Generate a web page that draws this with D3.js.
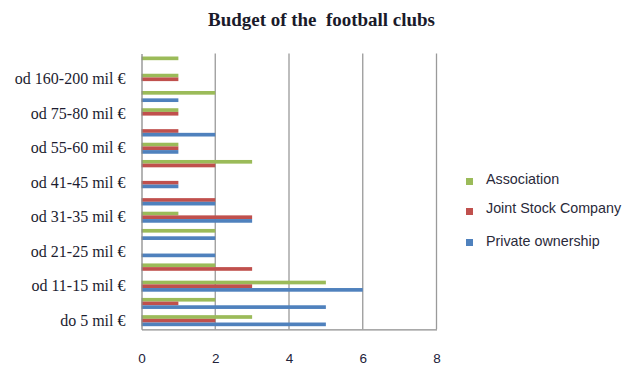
<!DOCTYPE html>
<html>
<head>
<meta charset="utf-8">
<script src="https://cdn.jsdelivr.net/npm/d3@7"></script>
<style>
  html, body { margin: 0; padding: 0; background: #fff; }
  svg { display: block; }
</style>
</head>
<body>
<svg id="chart" width="631" height="367"></svg>
<script>
// Budget buckets, bottom to top; only every other bucket carries a visible label
const categories = [
  "do 5 mil €", "od 6-10 mil €", "od 11-15 mil €", "od 16-20 mil €",
  "od 21-25 mil €", "od 26-30 mil €", "od 31-35 mil €", "od 36-40 mil €",
  "od 41-45 mil €", "od 46-50 mil €", "od 55-60 mil €", "od 61-70 mil €",
  "od 75-80 mil €", "od 100-150 mil €", "od 160-200 mil €", "nad 200 mil €"
];
const shownLabels = [
  "do 5 mil €", "od 11-15 mil €", "od 21-25 mil €", "od 31-35 mil €",
  "od 41-45 mil €", "od 55-60 mil €", "od 75-80 mil €", "od 160-200 mil €"
];

// Number of clubs per bucket for each ownership type
const association       = [3, 2, 5, 2, 0, 2, 1, 0, 0, 3, 1, 0, 1, 2, 1, 1];
const jointStockCompany = [2, 1, 3, 3, 0, 0, 3, 2, 1, 2, 1, 1, 1, 0, 1, 0];
const privateOwnership  = [5, 5, 6, 0, 2, 2, 3, 2, 1, 0, 1, 2, 0, 1, 0, 0];

const seriesNames  = ["Association", "Joint Stock Company", "Private ownership"];
const seriesColors = ["#9BBB59", "#C0504D", "#4F81BD"];
const xTicks = [0, 2, 4, 6, 8];

const series = [association, jointStockCompany, privateOwnership].map((vals, s) => ({
  name: seriesNames[s],
  color: seriesColors[s],
  values: vals
}));

const svg = d3.select("#chart");

const plot = { left: 141.5, right: 436.5, top: 53.4, bottom: 329.3 };

const x = d3.scaleLinear().domain([0, 8]).range([plot.left, plot.right]);
const y = d3.scaleBand()
  .domain(categories)
  .range([plot.bottom, plot.top])
  .paddingInner(0.36)
  .paddingOuter(0.18);
const yInner = d3.scaleBand()
  .domain(seriesNames)
  .range([0, y.bandwidth()]);

// Title
svg.append("text")
  .attr("x", 321.5)
  .attr("y", 26)
  .attr("text-anchor", "middle")
  .attr("font-family", "'Liberation Serif', 'Times New Roman', serif")
  .attr("font-weight", "bold")
  .attr("font-size", 19.5)
  .attr("textLength", 227)
  .attr("lengthAdjust", "spacingAndGlyphs")
  .attr("fill", "#1a1a2a")
  .style("white-space", "pre")
  .text("Budget of the  football clubs");

// Vertical gridlines
svg.append("g")
  .selectAll("line")
  .data(xTicks.filter(t => t > 0))
  .join("line")
  .attr("x1", d => x(d)).attr("x2", d => x(d))
  .attr("y1", plot.top).attr("y2", plot.bottom)
  .attr("stroke", "#9a9a9a")
  .attr("stroke-width", 1.3);

// Bars
const groups = svg.append("g")
  .selectAll("g")
  .data(categories)
  .join("g")
  .attr("transform", d => `translate(0,${y(d)})`);

groups.selectAll("rect")
  .data((c, i) => series.map(s => ({ name: s.name, color: s.color, value: s.values[i] })))
  .join("rect")
  .attr("x", x(0))
  .attr("y", d => yInner(d.name))
  .attr("width", d => x(d.value) - x(0))
  .attr("height", yInner.bandwidth())
  .attr("fill", d => d.color);

// Category axis (left)
const yAxis = d3.axisLeft(y)
  .tickValues(shownLabels)
  .tickSize(0)
  .tickPadding(16);
const gy = svg.append("g")
  .attr("transform", `translate(${plot.left},0)`)
  .call(yAxis);
gy.select(".domain").attr("stroke", "#8c8c8c").attr("stroke-width", 1.3);
gy.selectAll("text")
  .attr("font-family", "'Liberation Serif', 'Times New Roman', serif")
  .attr("font-size", 16)
  .attr("fill", "#1c1c30");

// Value axis (bottom)
const xAxis = d3.axisBottom(x)
  .tickValues(xTicks)
  .tickSize(0)
  .tickPadding(24);
const gx = svg.append("g")
  .attr("transform", `translate(0,${plot.bottom})`)
  .call(xAxis);
gx.select(".domain").attr("stroke", "#8c8c8c").attr("stroke-width", 1.3);
gx.selectAll("text")
  .attr("font-family", "'Liberation Sans', Arial, sans-serif")
  .attr("font-size", 13.5)
  .attr("fill", "#22223a");

// Legend
const legendY = [179, 208, 241];
const legend = svg.append("g")
  .selectAll("g")
  .data(series)
  .join("g")
  .attr("transform", (d, i) => `translate(466,${legendY[i]})`);
legend.append("rect")
  .attr("x", 0).attr("y", (d, i) => [-1, 0, -2][i])
  .attr("width", 7).attr("height", 7)
  .attr("fill", d => d.color);
legend.append("text")
  .attr("x", 20)
  .attr("y", 0)
  .attr("dy", "0.35em")
  .attr("font-family", "'Liberation Sans', Arial, sans-serif")
  .attr("font-size", 14.3)
  .attr("fill", "#2a2a3a")
  .text(d => d.name);
</script>
</body>
</html>
